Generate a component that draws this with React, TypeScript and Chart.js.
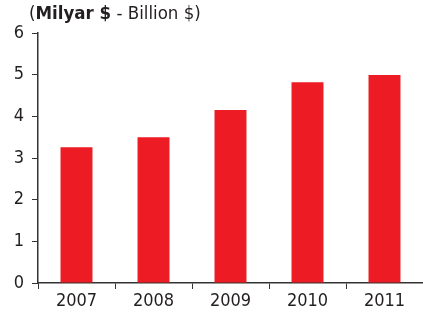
import React, { useEffect, useRef } from "react";
import { Chart, registerables } from "chart.js";

Chart.register(...registerables);

const categories = ["2007", "2008", "2009", "2010", "2011"];
const values = [3.26, 3.5, 4.15, 4.82, 4.99];
const yTicks = [0, 1, 2, 3, 4, 5, 6];

const FONT = "'DejaVu Sans Condensed', 'DejaVu Sans', sans-serif";
const TEXT = "#231F20";
const RED = "#ED1C24";

export default function App() {
  const ref = useRef<HTMLCanvasElement | null>(null);

  useEffect(() => {
    if (!ref.current) return;
    const chart = new Chart(ref.current, {
      type: "bar",
      data: {
        labels: categories,
        datasets: [
          {
            data: values,
            backgroundColor: RED,
            borderWidth: 0,
            barPercentage: 0.415,
            categoryPercentage: 1,
          },
        ],
      },
      options: {
        animation: false,
        responsive: true,
        maintainAspectRatio: false,
        layout: { padding: { top: 33, right: 0, bottom: 0, left: 0 } },
        plugins: {
          legend: { display: false },
          tooltip: { enabled: false },
          title: { display: false },
        },
        scales: {
          x: {
            grid: {
              display: true,
              drawOnChartArea: false,
              drawTicks: true,
              tickLength: 6,
              color: "#333333",
              offset: true,
            },
            border: { display: true, color: "#333333", width: 1.5 },
            ticks: {
              color: TEXT,
              font: { family: FONT, size: 18 },
              padding: 2,
              maxRotation: 0,
            },
            afterFit: (s: any) => {
              s.height = 32;
            },
          },
          y: {
            min: 0,
            max: 6,
            afterBuildTicks: (s: any) => {
              s.ticks = yTicks.map((v) => ({ value: v }));
            },
            grid: {
              display: true,
              drawOnChartArea: false,
              drawTicks: true,
              tickLength: 6,
              color: "#333333",
            },
            border: { display: true, color: "#333333", width: 1.5 },
            ticks: {
              color: TEXT,
              font: { family: FONT, size: 18 },
              padding: 8,
            },
            afterFit: (s: any) => {
              s.width = 38;
            },
          },
        },
      },
    });
    return () => chart.destroy();
  }, []);

  return (
    <div
      style={{
        position: "fixed",
        left: 0,
        top: 0,
        width: 423,
        height: 315,
        background: "#fff",
      }}
    >
      <canvas ref={ref} />
      <div
        style={{
          position: "absolute",
          left: 29,
          top: 3.5,
          fontFamily: FONT,
          fontSize: 18.5,
          lineHeight: "18px",
          color: TEXT,
          whiteSpace: "nowrap",
        }}
      >
        (<b>Milyar $</b> - Billion $)
      </div>
    </div>
  );
}
